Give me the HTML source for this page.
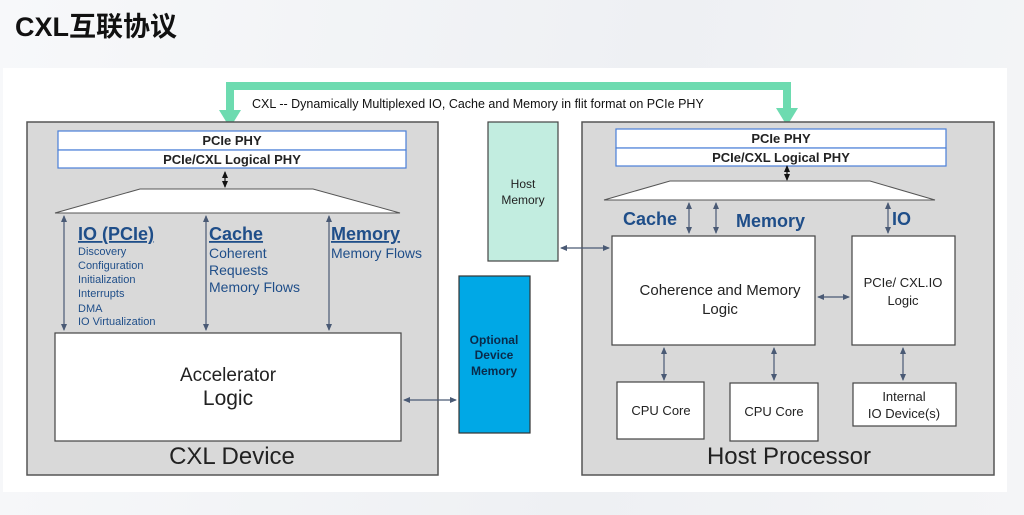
<!DOCTYPE html>
<html><head><meta charset="utf-8"><style>
html,body{margin:0;padding:0;width:1024px;height:515px;overflow:hidden;background:linear-gradient(100deg,#f7f8fa 0%,#eef0f3 60%,#f4f5f7 100%);}
svg{position:absolute;left:0;top:0;font-family:"Liberation Sans","Noto Sans CJK SC",sans-serif;}
</style></head><body>
<svg width="1024" height="515" viewBox="0 0 1024 515">
<defs>
<marker id="a" markerWidth="8" markerHeight="8" refX="6" refY="4" orient="auto-start-reverse" markerUnits="userSpaceOnUse"><path d="M0,1 L7,4 L0,7 z" fill="#4a5a75"/></marker>
<marker id="b" markerWidth="8" markerHeight="8" refX="6" refY="4" orient="auto-start-reverse" markerUnits="userSpaceOnUse"><path d="M0,1 L7,4 L0,7 z" fill="#111"/></marker>
</defs>
<text x="15" y="36" font-size="27" font-weight="bold" fill="#111">CXL互联协议</text>
<rect x="3" y="68" width="1004" height="424" fill="#fff"/>
<!-- green bracket -->
<path d="M230,112 V86 H787 V112" fill="none" stroke="#6ddbb0" stroke-width="8"/>
<path d="M219,110 H241 L230,128 z" fill="#6ddbb0"/>
<path d="M776,108 H798 L787,126 z" fill="#6ddbb0"/>
<text x="252" y="108" font-size="12.5" fill="#111">CXL  --  Dynamically Multiplexed IO, Cache and Memory in flit format on PCIe PHY</text>
<!-- left device -->
<rect x="27" y="122" width="411" height="353" fill="#d9d9d9" stroke="#555" stroke-width="1.5"/>
<rect x="58" y="131" width="348" height="19" fill="#fff" stroke="#4a7fd8" stroke-width="1.2"/>
<rect x="58" y="150" width="348" height="18" fill="#fff" stroke="#4a7fd8" stroke-width="1.2"/>
<text x="232" y="145" font-size="13" text-anchor="middle" font-weight="bold" fill="#222">PCIe PHY</text>
<text x="232" y="164" font-size="13" text-anchor="middle" font-weight="bold" fill="#222">PCIe/CXL Logical PHY</text>
<line x1="225" y1="172" x2="225" y2="187" stroke="#111" stroke-width="1.2" marker-start="url(#b)" marker-end="url(#b)"/>
<path d="M140,189 H313 L400,213 H55 z" fill="#fff" stroke="#555" stroke-width="1"/>
<line x1="64" y1="216" x2="64" y2="330" stroke="#4a5a75" stroke-width="1.2" marker-start="url(#a)" marker-end="url(#a)"/>
<line x1="206" y1="216" x2="206" y2="330" stroke="#4a5a75" stroke-width="1.2" marker-start="url(#a)" marker-end="url(#a)"/>
<line x1="329" y1="216" x2="329" y2="330" stroke="#4a5a75" stroke-width="1.2" marker-start="url(#a)" marker-end="url(#a)"/>
<g fill="#1f4e89">
<text x="78" y="240" font-size="18" text-decoration="underline" font-weight="bold">IO (PCIe)</text>
<text x="209" y="240" font-size="18" text-decoration="underline" font-weight="bold">Cache</text>
<text x="331" y="240" font-size="18" text-decoration="underline" font-weight="bold">Memory</text>
<g font-size="11"><text x="78" y="255">Discovery</text><text x="78" y="269">Configuration</text><text x="78" y="283">Initialization</text><text x="78" y="297">Interrupts</text><text x="78" y="312">DMA</text><text x="78" y="325">IO Virtualization</text></g>
<g font-size="14"><text x="209" y="258">Coherent</text><text x="209" y="275">Requests</text><text x="209" y="292">Memory Flows</text><text x="331" y="258">Memory Flows</text></g>
</g>
<rect x="55" y="333" width="346" height="108" fill="#fff" stroke="#444" stroke-width="1.2"/>
<text x="228" y="381" font-size="19" text-anchor="middle" fill="#222">Accelerator</text>
<text x="228" y="405" font-size="21" text-anchor="middle" fill="#222">Logic</text>
<text x="232" y="464" font-size="24" text-anchor="middle" fill="#222">CXL Device</text>
<!-- middle -->
<rect x="488" y="122" width="70" height="139" fill="#c2ede0" stroke="#444" stroke-width="1.2"/>
<text x="523" y="188" font-size="12" text-anchor="middle" fill="#222">Host</text>
<text x="523" y="204" font-size="12" text-anchor="middle" fill="#222">Memory</text>
<rect x="459" y="276" width="71" height="157" fill="#00a8e6" stroke="#333" stroke-width="1.2"/>
<g font-size="12" text-anchor="middle" fill="#0a2a4a" font-weight="bold"><text x="494" y="344">Optional</text><text x="494" y="359">Device</text><text x="494" y="375">Memory</text></g>
<line x1="404" y1="400" x2="456" y2="400" stroke="#4a5a75" stroke-width="1.2" marker-start="url(#a)" marker-end="url(#a)"/>
<!-- host -->
<rect x="582" y="122" width="412" height="353" fill="#d9d9d9" stroke="#555" stroke-width="1.5"/>
<line x1="561" y1="248" x2="609" y2="248" stroke="#4a5a75" stroke-width="1.2" marker-start="url(#a)" marker-end="url(#a)"/>
<rect x="616" y="129" width="330" height="19" fill="#fff" stroke="#4a7fd8" stroke-width="1.2"/>
<rect x="616" y="148" width="330" height="18" fill="#fff" stroke="#4a7fd8" stroke-width="1.2"/>
<text x="781" y="143" font-size="13" text-anchor="middle" font-weight="bold" fill="#222">PCIe PHY</text>
<text x="781" y="162" font-size="13" text-anchor="middle" font-weight="bold" fill="#222">PCIe/CXL Logical PHY</text>
<line x1="787" y1="166" x2="787" y2="180" stroke="#111" stroke-width="1.2" marker-start="url(#b)" marker-end="url(#b)"/>
<path d="M670,181 H870 L935,200 H604 z" fill="#fff" stroke="#555" stroke-width="1"/>
<line x1="689" y1="203" x2="689" y2="233" stroke="#4a5a75" stroke-width="1.2" marker-start="url(#a)" marker-end="url(#a)"/>
<line x1="716" y1="203" x2="716" y2="233" stroke="#4a5a75" stroke-width="1.2" marker-start="url(#a)" marker-end="url(#a)"/>
<line x1="888" y1="203" x2="888" y2="233" stroke="#4a5a75" stroke-width="1.2" marker-start="url(#a)" marker-end="url(#a)"/>
<g fill="#1f4e89" font-size="18" font-weight="bold"><text x="623" y="225">Cache</text><text x="736" y="227">Memory</text><text x="892" y="225">IO</text></g>
<rect x="612" y="236" width="203" height="109" fill="#fff" stroke="#444" stroke-width="1.2"/>
<text x="720" y="295" font-size="15" text-anchor="middle" fill="#222">Coherence and Memory</text>
<text x="720" y="314" font-size="15" text-anchor="middle" fill="#222">Logic</text>
<rect x="852" y="236" width="103" height="109" fill="#fff" stroke="#444" stroke-width="1.2"/>
<text x="903" y="287" font-size="13" text-anchor="middle" fill="#222">PCIe/ CXL.IO</text>
<text x="903" y="305" font-size="13" text-anchor="middle" fill="#222">Logic</text>
<line x1="818" y1="297" x2="849" y2="297" stroke="#4a5a75" stroke-width="1.2" marker-start="url(#a)" marker-end="url(#a)"/>
<line x1="664" y1="348" x2="664" y2="380" stroke="#4a5a75" stroke-width="1.2" marker-start="url(#a)" marker-end="url(#a)"/>
<line x1="774" y1="348" x2="774" y2="380" stroke="#4a5a75" stroke-width="1.2" marker-start="url(#a)" marker-end="url(#a)"/>
<line x1="903" y1="348" x2="903" y2="380" stroke="#4a5a75" stroke-width="1.2" marker-start="url(#a)" marker-end="url(#a)"/>
<rect x="617" y="382" width="87" height="57" fill="#fff" stroke="#444" stroke-width="1.2"/>
<rect x="730" y="383" width="88" height="58" fill="#fff" stroke="#444" stroke-width="1.2"/>
<rect x="853" y="383" width="103" height="43" fill="#fff" stroke="#444" stroke-width="1.2"/>
<g font-size="13" text-anchor="middle" fill="#222"><text x="661" y="415">CPU Core</text><text x="774" y="416">CPU Core</text><text x="904" y="401">Internal</text><text x="904" y="418">IO Device(s)</text></g>
<text x="789" y="464" font-size="24" text-anchor="middle" fill="#222">Host Processor</text>
</svg>
</body></html>
